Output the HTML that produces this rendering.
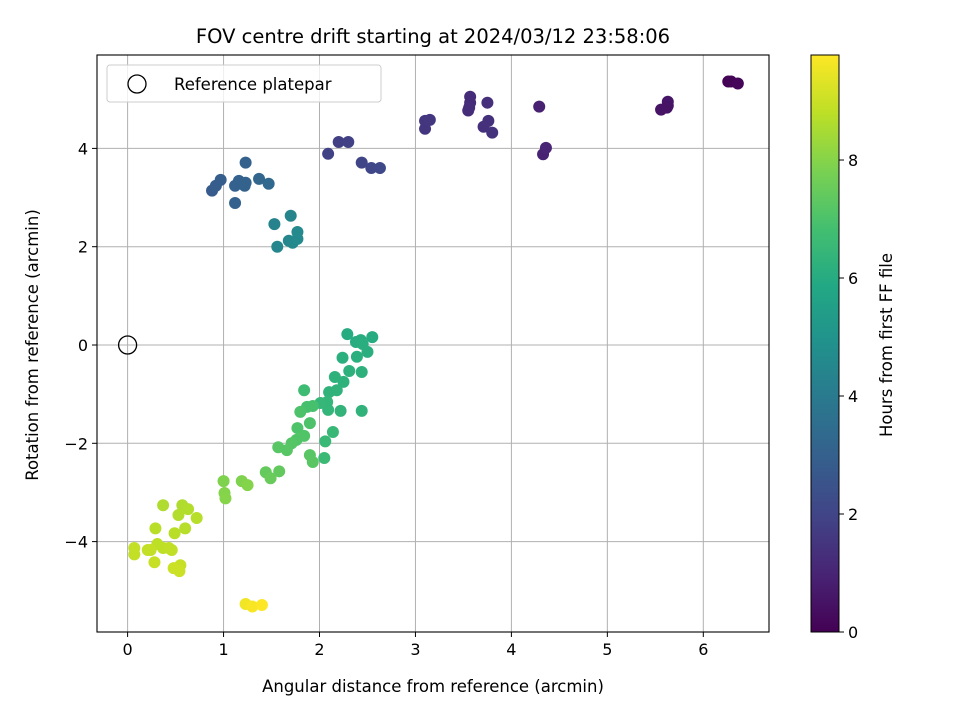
<!DOCTYPE html>
<html><head><meta charset="utf-8"><style>
body{margin:0;background:#fff;}
svg text{font-family:"DejaVu Sans","Liberation Sans",sans-serif;fill:#000;}
</style></head><body>
<svg id="c" width="960" height="720" xmlns="http://www.w3.org/2000/svg">
<defs><linearGradient id="vg" x1="0" y1="1" x2="0" y2="0">
<stop offset="0" stop-color="#440154"/><stop offset="0.1" stop-color="#482475"/><stop offset="0.2" stop-color="#414487"/><stop offset="0.3" stop-color="#355f8d"/><stop offset="0.4" stop-color="#2a788e"/><stop offset="0.5" stop-color="#21918c"/><stop offset="0.6" stop-color="#22a884"/><stop offset="0.7" stop-color="#44bf70"/><stop offset="0.8" stop-color="#7ad151"/><stop offset="0.9" stop-color="#bddf26"/><stop offset="1" stop-color="#fde725"/></linearGradient></defs>
<rect width="960" height="720" fill="#fff"/>
<g id="grid"></g><g id="pts"></g><g id="axes"></g>
</svg>
<script>
const xs=[6.26,6.29,6.36,5.56,5.63,5.63,5.62,4.29,4.33,4.36,3.57,3.57,3.56,3.55,3.75,3.76,3.71,3.80,3.10,3.10,3.15,2.20,2.30,2.09,2.44,2.54,2.63,
0.88,0.92,0.97,1.12,1.16,1.22,1.23,1.23,1.37,1.47,1.12,
1.53,1.70,1.56,1.68,1.72,1.77,1.77,
2.29,2.55,2.38,2.43,2.45,2.50,2.24,2.39,2.31,2.44,2.16,2.25,2.18,2.10,1.84,2.44,2.22,2.08,2.09,2.01,2.14,2.06,2.05,
1.87,1.93,1.80,1.90,1.77,1.84,1.76,1.71,1.66,1.57,1.90,1.93,1.58,1.44,1.49,
1.0,1.01,1.02,1.19,1.25,
0.37,0.57,0.63,0.53,0.72,0.60,0.29,0.49,0.31,0.37,0.43,0.46,0.07,0.07,0.24,0.28,0.55,0.48,0.54,0.21,
1.23,1.30,1.40];
const ys=[5.36,5.36,5.32,4.79,4.87,4.95,4.83,4.85,3.88,4.01,5.05,4.93,4.83,4.77,4.93,4.56,4.44,4.32,4.40,4.56,4.58,4.13,4.13,3.89,3.71,3.60,3.60,
3.14,3.24,3.36,3.24,3.34,3.24,3.71,3.30,3.38,3.28,2.89,
2.46,2.63,2.0,2.12,2.08,2.30,2.16,
0.22,0.16,0.06,0.10,0.02,-0.14,-0.26,-0.24,-0.53,-0.55,-0.65,-0.75,-0.92,-0.96,-0.92,-1.34,-1.34,-1.16,-1.32,-1.18,-1.77,-1.96,-2.30,
-1.26,-1.24,-1.36,-1.59,-1.69,-1.85,-1.93,-2.00,-2.14,-2.08,-2.24,-2.38,-2.57,-2.59,-2.71,
-2.77,-3.01,-3.12,-2.77,-2.85,
-3.26,-3.26,-3.34,-3.46,-3.52,-3.73,-3.73,-3.83,-4.05,-4.13,-4.13,-4.17,-4.13,-4.26,-4.17,-4.42,-4.48,-4.54,-4.60,-4.17,
-5.27,-5.32,-5.29];
const ts=[0.05,0.1,0.15,0.5,0.55,0.55,0.5,0.9,0.95,1.0,1.2,1.2,1.25,1.25,1.3,1.35,1.35,1.4,1.5,1.5,1.55,1.8,1.85,1.9,2.0,2.05,2.1,
2.8,2.85,2.9,3.0,3.0,3.05,3.05,3.1,3.2,3.3,3.0,
4.3,4.4,4.5,4.5,4.55,4.6,4.6,
6.0,6.0,6.05,6.05,6.1,6.1,6.15,6.15,6.2,6.2,6.25,6.25,6.3,6.3,6.7,6.3,6.35,6.4,6.4,6.45,6.5,6.55,6.6,
6.9,6.9,7.0,7.0,7.05,7.1,7.1,7.15,7.2,7.2,7.2,7.25,7.4,7.45,7.5,
7.9,7.95,8.0,7.9,7.95,
8.6,8.6,8.65,8.65,8.7,8.7,8.75,8.75,8.8,8.8,8.85,8.85,8.9,8.9,8.9,8.95,8.95,9.0,9.0,8.9,
9.6,9.7,9.8];
const xTicks=[0,1,2,3,4,5,6], yTicks=[-4,-2,0,2,4], cTicks=[0,2,4,6,8];
const L=97,R=769,T=55,B=632;
const X=v=>127.6+v*95.95, Y=v=>345-v*49.15, CMAX=9.78, CY=v=>B-(v/CMAX)*(B-T);
const VS=["#440154","#482475","#414487","#355f8d","#2a788e","#21918c","#22a884","#44bf70","#7ad151","#bddf26","#fde725"];
function vir(t){t=Math.max(0,Math.min(1,t));const f=t*10,i=Math.min(9,Math.floor(f)),u=f-i;
 const a=VS[i],b=VS[i+1],h=(s,k)=>parseInt(s.substr(1+2*k,2),16);
 return 'rgb('+[0,1,2].map(k=>Math.round(h(a,k)+(h(b,k)-h(a,k))*u)).join(',')+')';}
const NS="http://www.w3.org/2000/svg";
function mk(p,tag,at,txt){const e=document.createElementNS(NS,tag);for(const k in at)e.setAttribute(k,at[k]);if(txt!==undefined)e.textContent=txt;p.appendChild(e);return e;}
const g=document.getElementById('grid'),P=document.getElementById('pts'),A=document.getElementById('axes');
xTicks.forEach(v=>{const l=mk(g,'line',{x1:X(v),x2:X(v),y1:T,y2:B,stroke:'#b0b0b0','stroke-width':1});

});
yTicks.forEach(v=>{const l=mk(g,'line',{x1:L,x2:R,y1:Y(v),y2:Y(v),stroke:'#b0b0b0','stroke-width':1});

});
for(let i=0;i<xs.length;i++){const c=mk(P,'circle',{cx:X(xs[i]),cy:Y(ys[i]),r:6,fill:vir(ts[i]/CMAX)});

}
const ref=mk(P,'circle',{cx:X(0),cy:Y(0),r:9,fill:'none',stroke:'#000','stroke-width':1.3});


const fr=mk(A,'rect',{x:L,y:T,width:R-L,height:B-T,fill:'none',stroke:'#000','stroke-width':1.1});


xTicks.forEach(v=>{mk(A,'line',{x1:X(v),x2:X(v),y1:B,y2:B+5,stroke:'#000'});
const t=mk(A,'text',{x:X(v),y:B+23,'font-size':16,'text-anchor':'middle'},String(v));

});
yTicks.forEach(v=>{mk(A,'line',{x1:L-5,x2:L,y1:Y(v),y2:Y(v),stroke:'#000'});
const t=mk(A,'text',{x:L-9,y:Y(v)+6,'font-size':16,'text-anchor':'end'},v<0?'\u2212'+(-v):String(v));

});
// colorbar
const cb=mk(A,'rect',{x:811,y:T,width:28,height:B-T,fill:'url(#vg)',stroke:'#000','stroke-width':1});


cTicks.forEach(v=>{mk(A,'line',{x1:839,x2:844,y1:CY(v),y2:CY(v),stroke:'#000'});
const t=mk(A,'text',{x:848,y:CY(v)+6,'font-size':16},String(v));

});
</script>
<svg style="position:absolute;left:0;top:0" width="960" height="720" xmlns="http://www.w3.org/2000/svg">
<text x="433" y="43" font-size="19.5" text-anchor="middle" style="font-family:'DejaVu Sans',sans-serif">FOV centre drift starting at 2024/03/12 23:58:06</text>
<text x="433" y="692" font-size="16.5" text-anchor="middle" style="font-family:'DejaVu Sans',sans-serif">Angular distance from reference (arcmin)</text>
<text transform="translate(38,345) rotate(-90)" font-size="16.5" text-anchor="middle" style="font-family:'DejaVu Sans',sans-serif">Rotation from reference (arcmin)</text>
<text transform="translate(892,345) rotate(-90)" font-size="16.5" text-anchor="middle" style="font-family:'DejaVu Sans',sans-serif">Hours from first FF file</text>
<g>
<rect x="107" y="65" width="274" height="37" rx="3" fill="#fff" fill-opacity="0.8" stroke="#ccc"/>
<circle cx="137" cy="84" r="9" fill="none" stroke="#000" stroke-width="1.3"/>
<text x="174" y="90" font-size="16.5" style="font-family:'DejaVu Sans',sans-serif">Reference platepar</text>
</g>
</svg>
</body></html>
